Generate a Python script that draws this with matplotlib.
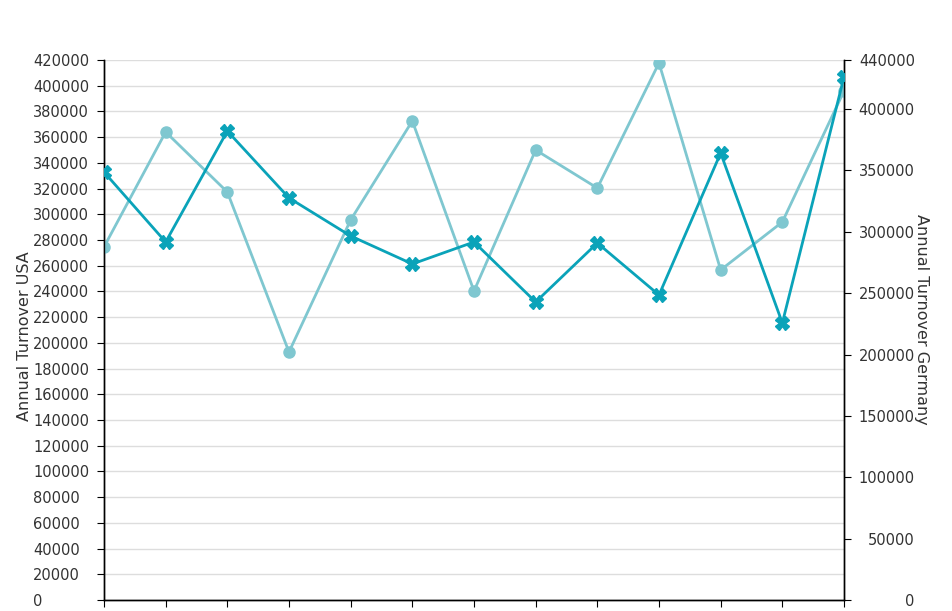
import matplotlib.pyplot as plt

plt.rcParams["font.family"] = ["DejaVu Sans"]

months = list(range(13))
usa = [274600, 364000, 317300, 192900, 295600, 372600, 240300,
       350000, 320400, 417700, 256700, 294000, 395900]
germany = [348700, 291700, 382100, 327600, 296600, 273800, 291700,
           242800, 290900, 248500, 364200, 225700, 426100]

left_ticks = list(range(0, 420001, 20000))
right_ticks = list(range(0, 440001, 50000)) + [440000]

light = "#7fc7d0"
dark = "#0aa3b9"
text_c = "#333333"

fig = plt.figure(figsize=(9.53, 6.11), dpi=100)
ax = fig.add_axes([104 / 953, 11 / 611, 740 / 953, 540 / 611])
ax2 = ax.twinx()

ax.plot(months, usa, color=light, lw=2, marker="o", ms=8, zorder=3)
ax2.plot(months, germany, color=dark, lw=2, marker="X", ms=10, zorder=3)

ax.set_xlim(0, 12)
ax.set_ylim(0, 420000)
ax2.set_ylim(0, 440000)
ax.set_xticks(months)
ax.set_xticklabels([])
ax.set_yticks(left_ticks)
ax2.set_yticks(right_ticks)
ax.set_yticklabels([str(v) for v in left_ticks])
ax2.set_yticklabels([str(v) for v in right_ticks])

ax.grid(axis="y", color="#dddddd", lw=1)
ax.set_axisbelow(True)

for a in (ax, ax2):
    a.spines["top"].set_visible(False)
    for s in a.spines.values():
        s.set_color("black")
        s.set_linewidth(1)
ax.tick_params(axis="y", length=5, pad=46, labelsize=10.5, labelcolor=text_c)
ax2.tick_params(axis="y", length=5, pad=46, labelsize=10.5, labelcolor=text_c)
ax.tick_params(axis="x", length=5)
for t in ax.get_yticklabels():
    t.set_ha("left")
for t in ax2.get_yticklabels():
    t.set_ha("right")

ax.set_ylabel("Annual Turnover USA", fontsize=11.5, color=text_c)
ax.yaxis.set_label_coords(-0.107, 0.488)
ax.yaxis.label.set_va("center")
ax2.set_ylabel("Annual Turnover Germany", fontsize=11.5, color=text_c,
               rotation=-90)
ax2.yaxis.set_label_coords(1.105, 0.52)
ax2.yaxis.label.set_va("center")

fig.savefig("out.png", dpi=100)
